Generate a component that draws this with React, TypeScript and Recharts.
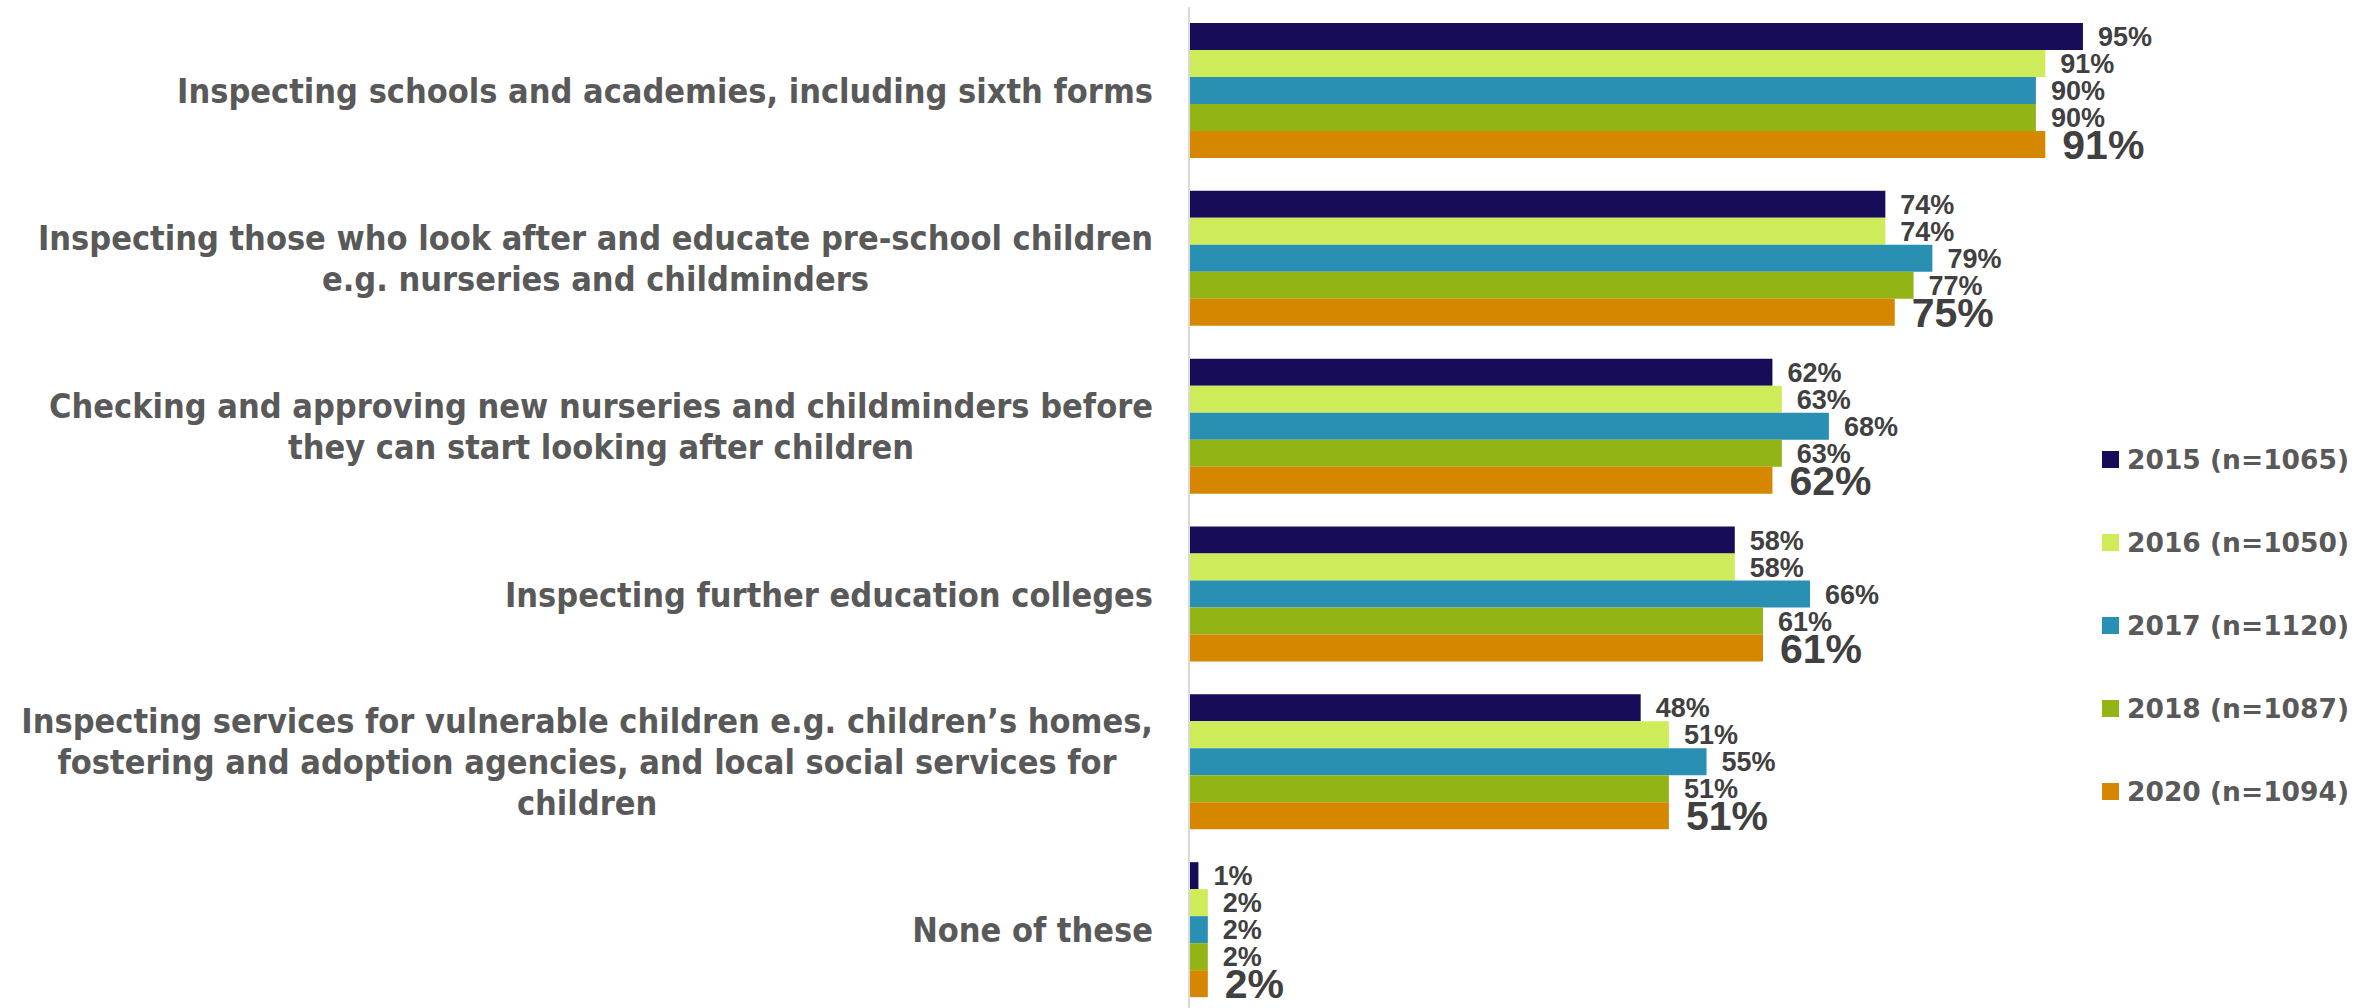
import React from 'react';
import { BarChart, Bar, XAxis, YAxis, Legend, LabelList } from 'recharts';

const categories = [
  'Inspecting schools and academies, including sixth forms',
  'Inspecting those who look after and educate pre-school children\ne.g. nurseries and childminders',
  'Checking and approving new nurseries and childminders before\nthey can start looking after children',
  'Inspecting further education colleges',
  'Inspecting services for vulnerable children e.g. children\u2019s homes,\nfostering and adoption agencies, and local social services for\nchildren',
  'None of these',
];
const v2015 = [95, 74, 62, 58, 48, 1];
const v2016 = [91, 74, 63, 58, 51, 2];
const v2017 = [90, 79, 68, 66, 55, 2];
const v2018 = [90, 77, 63, 61, 51, 2];
const v2020 = [91, 75, 62, 61, 51, 2];

const seriesKeys = ['y2015', 'y2016', 'y2017', 'y2018', 'y2020'];
const seriesNames = ['2015 (n=1065)', '2016 (n=1050)', '2017 (n=1120)', '2018 (n=1087)', '2020 (n=1094)'];
const seriesColors = ['#170C58', '#CEEC5A', '#2A90B3', '#92B414', '#D58700'];
const seriesValues = [v2015, v2016, v2017, v2018, v2020];

const data = categories.map((c, i) => {
  const row: any = { name: c };
  seriesKeys.forEach((k, j) => { row[k] = seriesValues[j][i]; });
  return row;
});

const CAT_FONT = '"DejaVu Sans Condensed", "DejaVu Sans", sans-serif';
const CAT_SIZE = 34;
const VAL_FONT = '"Liberation Sans Narrow", "Arial Narrow", "Liberation Sans", sans-serif';

let ctx: CanvasRenderingContext2D | null = null;
const measure = (t: string) => {
  if (!ctx) {
    const c = document.createElement('canvas');
    ctx = c.getContext('2d');
  }
  if (!ctx) return t.length * CAT_SIZE * 0.55;
  ctx.font = `bold ${CAT_SIZE}px ${CAT_FONT}`;
  return ctx.measureText(t).width;
};

const CatTick = (props: any) => {
  const { x, y, payload } = props;
  const lines = String(payload.value).split('\n');
  const maxW = Math.max(...lines.map(measure));
  const cx = x - maxW / 2;
  const lh = 41;
  const startY = y - ((lines.length - 1) * lh) / 2;
  return (
    <text x={cx} y={startY} textAnchor="middle" fill="#595959" fontFamily={CAT_FONT} fontWeight="bold" fontSize={CAT_SIZE}>
      {lines.map((l, i) => (
        <tspan key={i} x={cx} y={startY + i * lh} dy="0.36em">{l}</tspan>
      ))}
    </text>
  );
};

const renderLegend = () => (
  <div>
    {seriesNames.map((n, i) => (
      <div key={n} style={{ display: 'flex', alignItems: 'center', height: 83 }}>
        <span style={{ display: 'inline-block', width: 17, height: 17, background: seriesColors[i], marginRight: 8 }} />
        <span style={{ fontFamily: '"DejaVu Sans", sans-serif', fontWeight: 'bold', fontSize: 26.5, color: '#595959' }}>{n}</span>
      </div>
    ))}
  </div>
);

export default function App() {
  return (
    <div style={{ position: 'fixed', top: 0, left: 0, width: 2379, height: 1008, overflow: 'hidden', background: '#fff' }}>
      <BarChart
        width={2379}
        height={1014}
        data={data}
        layout="vertical"
        margin={{ top: 7, right: 249, bottom: 0, left: 0 }}
        barGap={0}
        barSize={27}
      >
        <XAxis type="number" domain={[0, 100]} hide />
        <YAxis
          type="category"
          dataKey="name"
          width={1189}
          tickLine={false}
          tickSize={0}
          tickMargin={36}
          axisLine={{ stroke: '#D9D9D9', strokeWidth: 2 }}
          tick={<CatTick />}
          interval={0}
        />
        <Legend
          layout="horizontal"
          verticalAlign="middle"
          align="center"
          content={renderLegend}
          wrapperStyle={{ top: 418, left: 2102, width: 277, right: 'auto' }}
        />
        {seriesKeys.map((k, i) => (
          <Bar key={k} dataKey={k} name={seriesNames[i]} fill={seriesColors[i]} isAnimationActive={false}>
            <LabelList
              dataKey={k}
              position="right"
              offset={i === 4 ? 17 : 15}
              formatter={(v: any) => `${v}%`}
              fill="#404040"
              fontFamily={VAL_FONT}
              fontWeight="bold"
              fontSize={i === 4 ? 41 : 27}
            />
          </Bar>
        ))}
      </BarChart>
    </div>
  );
}
